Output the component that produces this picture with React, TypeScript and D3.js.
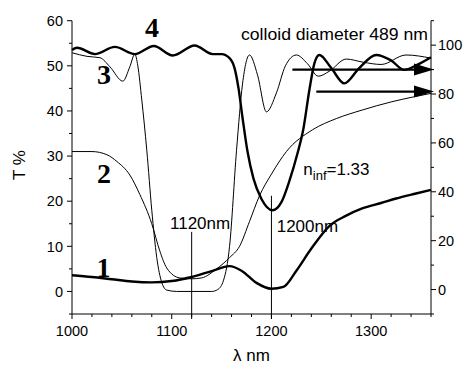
import * as d3 from "d3";

// wavelength (nm) and transmission (T %, left axis)
const curve1Wl = [1000, 1020, 1040, 1060, 1080, 1100, 1120, 1140, 1158, 1170, 1185, 1200, 1212, 1225, 1240, 1258, 1275, 1291, 1310, 1325, 1345, 1360];
const curve1T = [3.6, 3.2, 2.7, 2.2, 2.0, 2.3, 3.2, 4.5, 5.6, 4.6, 1.9, 0.6, 1.0, 4.6, 9.5, 14.5, 16.8, 18.4, 19.6, 20.6, 21.7, 22.5];

const curve2Wl = [1000, 1020, 1035, 1045, 1058, 1068, 1080, 1088, 1095, 1108, 1120, 1130, 1145, 1158, 1168, 1178, 1188, 1200, 1215, 1241, 1265, 1291, 1320, 1340, 1360];
const curve2T = [31.0, 31.0, 30.3, 28.8, 25.8, 21.5, 15, 9, 5.2, 3.0, 2.8, 3.0, 5.0, 7.5, 10, 15.5, 21.2, 26, 31, 35.8, 38.3, 40.2, 42.0, 43.0, 43.9];

const curve3Wl = [1000, 1015, 1028, 1038, 1051, 1058, 1063, 1066, 1070, 1075, 1080, 1085, 1090, 1095, 1105, 1120, 1140, 1146, 1152, 1158, 1165, 1171, 1178, 1186, 1195, 1205, 1214, 1225, 1236, 1247, 1258, 1275, 1292, 1310, 1335, 1360];
const curve3T = [52.9, 52.1, 51.8, 49.8, 46.6, 49.8, 52.6, 50.0, 42.4, 31.3, 18, 7.5, 2.0, 0.3, 0, 0, 0, 0.4, 2.5, 10, 31.3, 46, 52.4, 48, 39.8, 44, 50, 52.4, 50.5, 47.7, 48.8, 51.5, 50.8, 50.3, 52.4, 51.7];

const curve4Wl = [1000, 1005, 1023, 1043, 1063, 1082, 1101, 1123, 1141, 1150, 1158, 1163, 1167, 1171, 1176, 1182, 1190, 1201, 1210, 1218, 1226, 1232, 1238, 1243, 1248, 1260, 1273, 1288, 1305, 1320, 1333, 1346, 1360];
const curve4T = [53.5, 54.0, 52.6, 54.2, 52.6, 54.4, 52.3, 54.5, 52.6, 52.6, 51.7, 49.5, 45, 38.5, 31, 25, 20.5, 18.0, 19.8, 24.5, 30.5, 36, 44.6, 50.5, 52.4, 49.5, 46.1, 49.5, 52.4, 51.2, 49.1, 50.2, 51.9];

const xMajor = [1000, 1100, 1200, 1300];
const leftMajor = [0, 10, 20, 30, 40, 50, 60];
const rightMajor = [0, 20, 40, 60, 80, 100];

// arrows pointing to the right axis (right-axis values)
const arrowStartWl = [1221, 1245];
const arrowValue = [90, 81];

// marked wavelengths
const markWl = [1120, 1200];
const markTop = [13.2, 21.2];

const font = "'Liberation Sans', Arial, sans-serif";

export default function App() {
  const x = d3.scaleLinear().domain([1000, 1360]).range([72, 431]);
  const yL = d3.scaleLinear().domain([-5, 60]).range([314, 20.7]);
  const yR = d3.scaleLinear().domain([-10, 110]).range([314, 20.7]);

  const line = d3
    .line<number>()
    .x((d) => x(d))
    .curve(d3.curveMonotoneX);

  const path = (wl: number[], t: number[]) =>
    line.y((_, i) => yL(t[i]))(wl) || "";

  const curves = [
    { wl: curve1Wl, t: curve1T, w: 2.4 },
    { wl: curve2Wl, t: curve2T, w: 1 },
    { wl: curve3Wl, t: curve3T, w: 1 },
    { wl: curve4Wl, t: curve4T, w: 2.4 },
  ];

  const x0 = x.range()[0];
  const x1 = x.range()[1];
  const yb = yL.range()[0];
  const yt = yL.range()[1];

  return (
    <svg
      width={464}
      height={365}
      style={{ position: "absolute", left: 0, top: 0, background: "#fff" }}
    >
      <g fill="none" stroke="#000" strokeLinejoin="round">
        {curves.map((c, i) => (
          <path key={i} d={path(c.wl, c.t)} strokeWidth={c.w} />
        ))}
      </g>

      {/* marker lines */}
      {markWl.map((w, i) => (
        <line key={w} x1={x(w)} x2={x(w)} y1={yL(markTop[i])} y2={yb + 5} stroke="#000" strokeWidth={1} />
      ))}

      {/* arrows */}
      {arrowStartWl.map((w, i) => {
        const yy = yR(arrowValue[i]);
        const tip = x(1363);
        return (
          <g key={i}>
            <line x1={x(w)} x2={tip - 16} y1={yy} y2={yy} stroke="#000" strokeWidth={2.2} />
            <polygon points={`${tip},${yy} ${tip - 20},${yy - 6} ${tip - 20},${yy + 6}`} fill="#000" />
          </g>
        );
      })}

      {/* axes */}
      <g stroke="#000" strokeWidth={1}>
        <line x1={x0} x2={x0} y1={yt} y2={yb} />
        <line x1={x1} x2={x1} y1={yt} y2={yb} />
        <line x1={x0} x2={x1} y1={yb} y2={yb} />
        {d3.range(1000, 1361, 20).map((v) => (
          <line key={"xb" + v} x1={x(v)} x2={x(v)} y1={yb} y2={yb + (v % 100 === 0 ? 5 : 3)} />
        ))}
        {d3.range(-5, 61, 5).map((v) => (
          <line key={"yl" + v} x1={x0} x2={x0 - (v % 10 === 0 ? 5 : 3)} y1={yL(v)} y2={yL(v)} />
        ))}
        {d3.range(-10, 111, 10).map((v) => (
          <line key={"yr" + v} x1={x1} x2={x1 + (v % 20 === 0 ? 5 : 3)} y1={yR(v)} y2={yR(v)} />
        ))}
      </g>

      <g fontFamily={font} fontSize={14.5} fill="#000">
        {xMajor.map((v) => (
          <text key={v} x={x(v)} y={yb + 22} textAnchor="middle">{v}</text>
        ))}
        {leftMajor.map((v) => (
          <text key={v} x={x0 - 9} y={yL(v)} dy="0.36em" textAnchor="end">{v}</text>
        ))}
        {rightMajor.map((v) => (
          <text key={v} x={x1 + 7} y={yR(v)} dy="0.36em">{v}</text>
        ))}
      </g>

      {/* axis titles */}
      <text x={251.5} y={361} textAnchor="middle" fontFamily={font} fontSize={17}>λ nm</text>
      <text transform="translate(25,165) rotate(-90)" textAnchor="middle" fontFamily={font} fontSize={17}>T %</text>

      {/* annotations */}
      <g fontFamily={font} fontSize={17}>
        <text x={241} y={40} textLength={187} lengthAdjust="spacingAndGlyphs">colloid diameter 489 nm</text>
        <text x={170} y={229.3}>1120nm</text>
        <text x={276.7} y={231.7}>1200nm</text>
        <text x={303.3} y={175}>
          n<tspan fontSize={13} dy={5}>inf</tspan><tspan dy={-5}>=1.33</tspan>
        </text>
      </g>

      {/* curve numbers */}
      <g fontFamily="'Liberation Serif', 'Times New Roman', serif" fontWeight="bold" fontSize={28} textAnchor="middle">
        <text x={152} y={37}>4</text>
        <text x={104} y={84}>3</text>
        <text x={104} y={183}>2</text>
        <text x={103.5} y={277}>1</text>
      </g>
    </svg>
  );
}
